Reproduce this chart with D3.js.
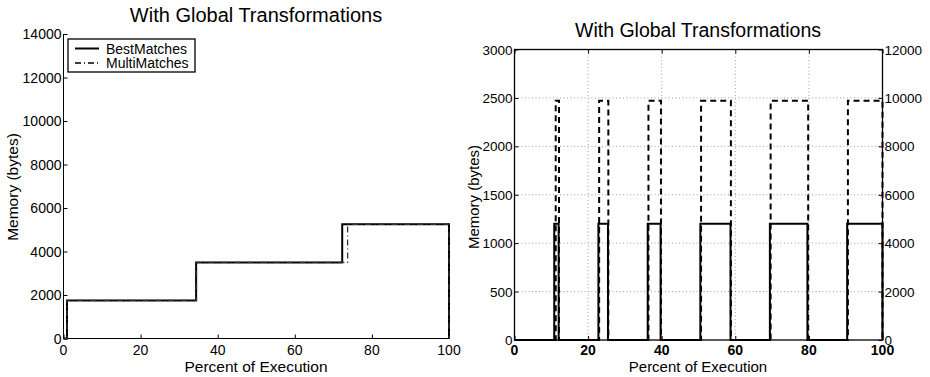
<!DOCTYPE html>
<html>
<head>
<meta charset="utf-8">
<script src="https://cdn.jsdelivr.net/npm/d3@7"></script>
<style>
  body { margin: 0; background: #fff; }
  svg { display: block; font-family: "Liberation Sans", Arial, Helvetica, sans-serif; }
</style>
</head>
<body>
<svg id="chart" width="930" height="377"></svg>
<script>
// Left panel: step curves (percent of execution, bytes)
const leftBestX = [0, 0.9, 0.9, 34.4, 34.4, 72.3, 72.3, 100, 100];
const leftBestY = [0, 0, 1750, 1750, 3500, 3500, 5250, 5250, 0];
const leftMultiX = [0, 0.9, 0.9, 34.5, 34.5, 73.7, 73.7, 100, 100];
const leftMultiY = [0, 0, 1750, 1750, 3500, 3500, 5250, 5250, 0];
const leftXTicks = [0, 20, 40, 60, 80, 100];
const leftYTicks = [0, 2000, 4000, 6000, 8000, 10000, 12000, 14000];

// Right panel: pulses
const rightBestStart = [10.8, 22.8, 36.2, 50.5, 69.4, 90.4];
const rightBestEnd = [12.0, 25.4, 39.7, 58.7, 79.6, 100];
const rightBestLevel = 1200;
const rightMultiStart = [11.2, 23.0, 36.4, 50.7, 69.6, 90.6];
const rightMultiEnd = [12.1, 25.5, 39.8, 58.8, 79.8, 100];
const rightMultiLevel = 2470;
const rightXTicks = [0, 20, 40, 60, 80, 100];
const rightYTicks = [0, 500, 1000, 1500, 2000, 2500, 3000];
const rightY2Ticks = [0, 2000, 4000, 6000, 8000, 10000, 12000];

const seriesNames = ["BestMatches", "MultiMatches"];
const titleText = "With Global Transformations";
const xLabel = "Percent of Execution";
const yLabel = "Memory (bytes)";

const svg = d3.select("#chart");

function pulsePoints(starts, ends, level) {
  const pts = [[0, 0]];
  starts.forEach((s, i) => {
    pts.push([s, 0], [s, level], [ends[i], level], [ends[i], 0]);
  });
  pts.push([100, 0]);
  return pts;
}

// ---------- Left panel ----------
const L = { left: 63.5, right: 449, top: 34, bottom: 338.5 };
const xl = d3.scaleLinear().domain([0, 100]).range([L.left, L.right]);
const yl = d3.scaleLinear().domain([0, 14000]).range([L.bottom, L.top]);

const gl = svg.append("g");

// axes (inward ticks)
gl.append("g")
  .attr("transform", `translate(0,${L.bottom})`)
  .call(d3.axisTop(xl).tickValues(leftXTicks).tickSize(4).tickFormat(""))
  .call(g => g.select(".domain").remove());
gl.append("g")
  .attr("transform", `translate(${L.left},0)`)
  .call(d3.axisRight(yl).tickValues(leftYTicks).tickSize(4).tickFormat(""))
  .call(g => g.select(".domain").remove());
gl.selectAll(".tick line").attr("stroke", "#000");

gl.append("line").attr("x1", L.left).attr("x2", L.right).attr("y1", L.bottom).attr("y2", L.bottom)
  .attr("stroke", "#000").attr("stroke-width", 1);
gl.append("line").attr("x1", L.left).attr("x2", L.left).attr("y1", L.top).attr("y2", L.bottom)
  .attr("stroke", "#000").attr("stroke-width", 1);

gl.selectAll(".xlab").data(leftXTicks).join("text")
  .attr("x", d => xl(d)).attr("y", L.bottom + 16)
  .attr("text-anchor", "middle").attr("font-size", 14).text(d => d);
gl.selectAll(".ylab").data(leftYTicks).join("text")
  .attr("x", L.left - 2).attr("y", d => yl(d) + 5)
  .attr("text-anchor", "end").attr("font-size", 14).text(d => d);

const lineL = d3.line().x(d => xl(d[0])).y(d => yl(d[1]));
gl.append("path")
  .datum(leftBestX.map((x, i) => [x, leftBestY[i]]))
  .attr("fill", "none").attr("stroke", "#000").attr("stroke-width", 2)
  .attr("d", lineL);
gl.append("path")
  .datum(leftMultiX.map((x, i) => [x, leftMultiY[i]]))
  .attr("fill", "none").attr("stroke", "#333").attr("stroke-width", 1.3)
  .attr("stroke-dasharray", "6,3,1,3")
  .attr("d", lineL);

// legend
const lg = gl.append("g").attr("transform", "translate(68,39)");
lg.append("rect").attr("width", 127).attr("height", 33)
  .attr("fill", "#fff").attr("stroke", "#000").attr("stroke-width", 1.3);
lg.append("line").attr("x1", 7).attr("x2", 31).attr("y1", 9.5).attr("y2", 9.5)
  .attr("stroke", "#000").attr("stroke-width", 2);
lg.append("line").attr("x1", 7).attr("x2", 31).attr("y1", 24).attr("y2", 24)
  .attr("stroke", "#000").attr("stroke-width", 1.3).attr("stroke-dasharray", "6,3,1,3");
lg.selectAll(".lt").data(seriesNames).join("text")
  .attr("x", 38).attr("y", (d, i) => 14.5 + i * 14.5)
  .attr("font-size", 14).text(d => d);

gl.append("text").attr("x", 256).attr("y", 22).attr("text-anchor", "middle")
  .attr("font-size", 20).text(titleText);
gl.append("text").attr("x", 256).attr("y", 372).attr("text-anchor", "middle")
  .attr("font-size", 15.5).text(xLabel);
gl.append("text").attr("transform", "translate(18,187) rotate(-90)")
  .attr("text-anchor", "middle").attr("font-size", 15.5).text(yLabel);

// ---------- Right panel ----------
const R = { left: 514.5, right: 882.5, top: 49.5, bottom: 340 };
const xr = d3.scaleLinear().domain([0, 100]).range([R.left, R.right]);
const yr = d3.scaleLinear().domain([0, 3000]).range([R.bottom, R.top]);
const yr2 = d3.scaleLinear().domain([0, 12000]).range([R.bottom, R.top]);

const gr = svg.append("g");

// grid
gr.selectAll(".gx").data(rightXTicks.slice(1, -1)).join("line")
  .attr("x1", d => xr(d)).attr("x2", d => xr(d)).attr("y1", R.top).attr("y2", R.bottom)
  .attr("stroke", "#888").attr("stroke-width", 0.8).attr("stroke-dasharray", "1,2.5");
gr.selectAll(".gy").data(rightYTicks.slice(1, -1)).join("line")
  .attr("x1", R.left).attr("x2", R.right).attr("y1", d => yr(d)).attr("y2", d => yr(d))
  .attr("stroke", "#888").attr("stroke-width", 0.8).attr("stroke-dasharray", "1,2.5");

// ticks
gr.append("g").attr("transform", `translate(0,${R.bottom})`)
  .call(d3.axisTop(xr).tickValues(rightXTicks).tickSize(4).tickFormat(""))
  .call(g => g.select(".domain").remove());
gr.append("g").attr("transform", `translate(0,${R.top})`)
  .call(d3.axisBottom(xr).tickValues(rightXTicks).tickSize(4).tickFormat(""))
  .call(g => g.select(".domain").remove());
gr.append("g").attr("transform", `translate(${R.left},0)`)
  .call(d3.axisRight(yr).tickValues(rightYTicks).tickSize(4).tickFormat(""))
  .call(g => g.select(".domain").remove());
gr.append("g").attr("transform", `translate(${R.right},0)`)
  .call(d3.axisLeft(yr2).tickValues(rightY2Ticks).tickSize(4).tickFormat(""))
  .call(g => g.select(".domain").remove());
gr.selectAll(".tick line").attr("stroke", "#000");

gr.append("rect").attr("x", R.left).attr("y", R.top)
  .attr("width", R.right - R.left).attr("height", R.bottom - R.top)
  .attr("fill", "none").attr("stroke", "#000").attr("stroke-width", 1.3);

gr.selectAll(".xlab").data(rightXTicks).join("text")
  .attr("x", d => xr(d)).attr("y", R.bottom + 15)
  .attr("text-anchor", "middle").attr("font-size", 14).attr("font-weight", "bold").text(d => d);
gr.selectAll(".ylab").data(rightYTicks).join("text")
  .attr("x", R.left - 2).attr("y", d => yr(d) + 5)
  .attr("text-anchor", "end").attr("font-size", 13.5).text(d => d);
gr.selectAll(".y2lab").data(rightY2Ticks).join("text")
  .attr("x", R.right + 2).attr("y", d => yr2(d) + 5)
  .attr("text-anchor", "start").attr("font-size", 13.5).text(d => d);

const lineR = d3.line().x(d => xr(d[0])).y(d => yr(d[1]));
gr.append("path")
  .datum(pulsePoints(rightBestStart, rightBestEnd, rightBestLevel))
  .attr("fill", "none").attr("stroke", "#000").attr("stroke-width", 2)
  .attr("d", lineR);
gr.append("path")
  .datum(pulsePoints(rightMultiStart, rightMultiEnd, rightMultiLevel))
  .attr("fill", "none").attr("stroke", "#000").attr("stroke-width", 2)
  .attr("stroke-dasharray", "6,4")
  .attr("d", lineR);

gr.append("text").attr("x", 698).attr("y", 37).attr("text-anchor", "middle")
  .attr("font-size", 19.5).text(titleText);
gr.append("text").attr("x", 698).attr("y", 372).attr("text-anchor", "middle")
  .attr("font-size", 15).text(xLabel);
gr.append("text").attr("transform", "translate(479,197) rotate(-90)")
  .attr("text-anchor", "middle").attr("font-size", 15).text(yLabel);
</script>
</body>
</html>
